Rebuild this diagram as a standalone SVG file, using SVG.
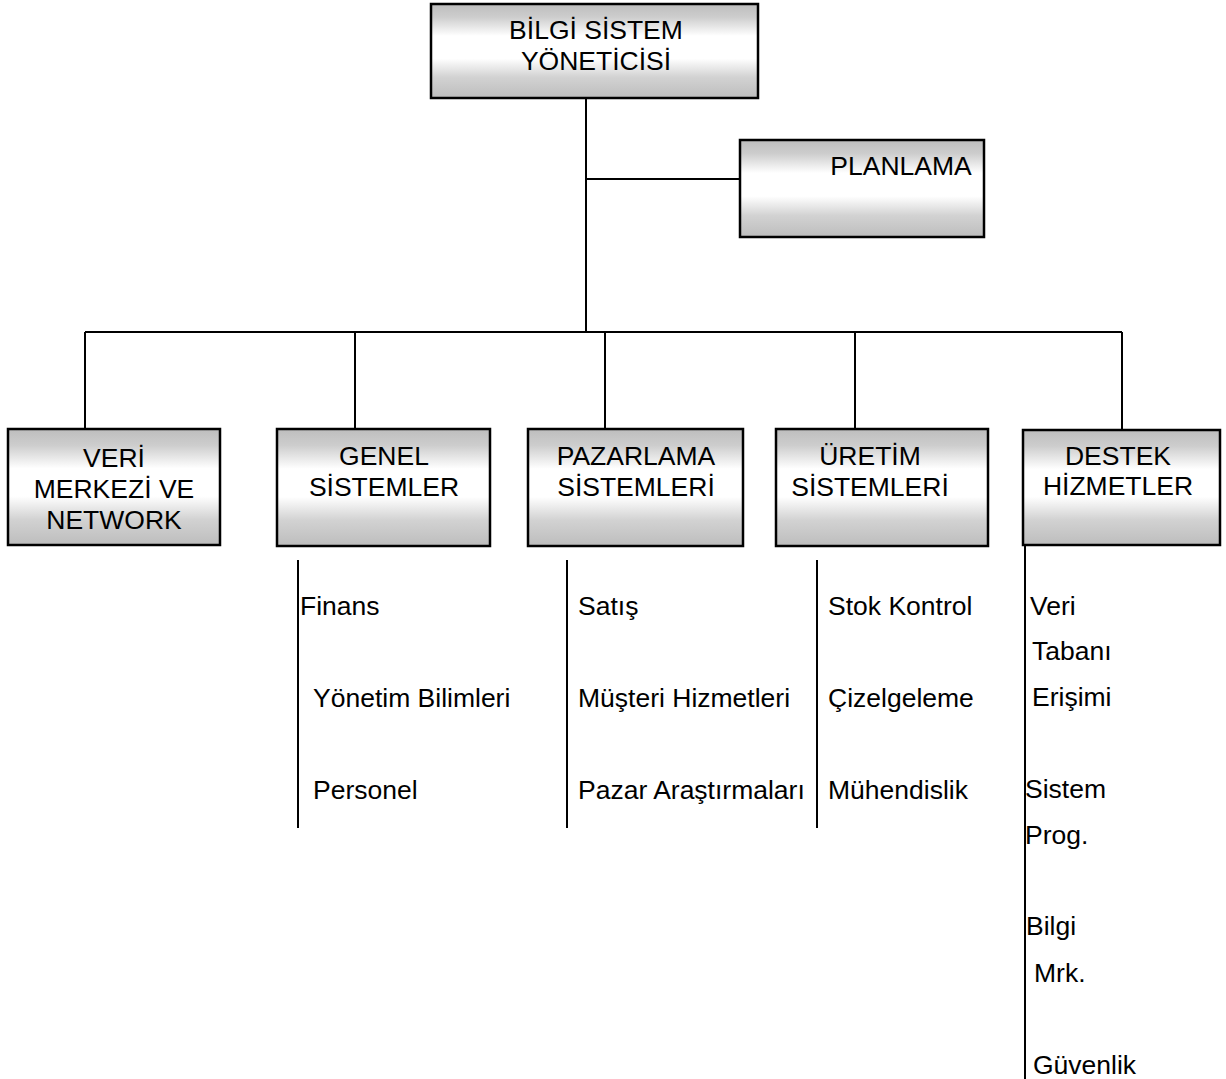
<svg xmlns="http://www.w3.org/2000/svg" width="1226" height="1079" viewBox="0 0 1226 1079">
  <style>
    text { font-family: "Liberation Sans", Arial, sans-serif; font-size: 26.5px; fill: #000; }
    .box { fill: url(#shade); stroke: #000; stroke-width: 2.5; }
    .c { text-anchor: middle; }
    .wire { stroke: #000; stroke-width: 2; fill: none; }
  </style>
  <defs>
    <!-- grey top and bottom bands, white band through the middle -->
    <linearGradient id="shade" x1="0" y1="0" x2="0" y2="1">
      <stop offset="0" stop-color="#bdbdbd"/>
      <stop offset="0.14" stop-color="#cdcdcd"/>
      <stop offset="0.34" stop-color="#ffffff"/>
      <stop offset="0.58" stop-color="#ffffff"/>
      <stop offset="0.78" stop-color="#d2d2d2"/>
      <stop offset="1" stop-color="#bdbdbd"/>
    </linearGradient>
  </defs>
  <rect width="1226" height="1079" fill="#fff"/>

  <!-- connectors -->
  <g id="connectors" class="wire">
    <path class="wire" d="M586 98 V332"/>
    <path class="wire" d="M586 179 H740"/>
    <path class="wire" d="M85 332 H1122"/>
    <path class="wire" d="M85 332 V429"/>
    <path class="wire" d="M355 332 V429"/>
    <path class="wire" d="M605 332 V429"/>
    <path class="wire" d="M855 332 V429"/>
    <path class="wire" d="M1122 332 V430"/>
    <path class="wire" d="M298 560 V828"/>
    <path class="wire" d="M567 560 V828"/>
    <path class="wire" d="M817 560 V828"/>
    <path class="wire" d="M1025 545 V1079"/>
  </g>

  <g id="bilgi-sistem-yoneticisi">
    <rect class="box" x="431" y="4" width="327" height="94"/>
    <text class="c" x="596" y="39">BİLGİ SİSTEM</text>
    <text class="c" x="596" y="70">YÖNETİCİSİ</text>
  </g>

  <g id="planlama">
    <rect class="box" x="740" y="140" width="244" height="97"/>
    <text class="c" x="901" y="175">PLANLAMA</text>
  </g>

  <g id="veri-merkezi">
    <rect class="box" x="8" y="429" width="212" height="116"/>
    <text class="c" x="114" y="467">VERİ</text>
    <text class="c" x="114" y="498">MERKEZİ VE</text>
    <text class="c" x="114" y="529">NETWORK</text>
  </g>

  <g id="genel-sistemler">
    <rect class="box" x="277" y="429" width="213" height="117"/>
    <text class="c" x="384" y="465">GENEL</text>
    <text class="c" x="384" y="496">SİSTEMLER</text>
    <text x="300" y="615">Finans</text>
    <text x="313" y="707">Yönetim Bilimleri</text>
    <text x="313" y="799">Personel</text>
  </g>

  <g id="pazarlama-sistemleri">
    <rect class="box" x="528" y="429" width="215" height="117"/>
    <text class="c" x="636" y="465">PAZARLAMA</text>
    <text class="c" x="636" y="496">SİSTEMLERİ</text>
    <text x="578" y="615">Satış</text>
    <text x="578" y="707">Müşteri Hizmetleri</text>
    <text x="578" y="799">Pazar Araştırmaları</text>
  </g>

  <g id="uretim-sistemleri">
    <rect class="box" x="776" y="429" width="212" height="117"/>
    <text class="c" x="870" y="465">ÜRETİM</text>
    <text class="c" x="870" y="496">SİSTEMLERİ</text>
    <text x="828" y="615">Stok Kontrol</text>
    <text x="828" y="707">Çizelgeleme</text>
    <text x="828" y="799">Mühendislik</text>
  </g>

  <g id="destek-hizmetler">
    <rect class="box" x="1023" y="430" width="197" height="115"/>
    <text class="c" x="1118" y="465">DESTEK</text>
    <text class="c" x="1118" y="495">HİZMETLER</text>
    <text x="1030" y="615">Veri</text>
    <text x="1032" y="660">Tabanı</text>
    <text x="1032" y="706">Erişimi</text>
    <text x="1025" y="798">Sistem</text>
    <text x="1025" y="844">Prog.</text>
    <text x="1026" y="935">Bilgi</text>
    <text x="1034" y="982">Mrk.</text>
    <text x="1033" y="1074">Güvenlik</text>
  </g>
</svg>
